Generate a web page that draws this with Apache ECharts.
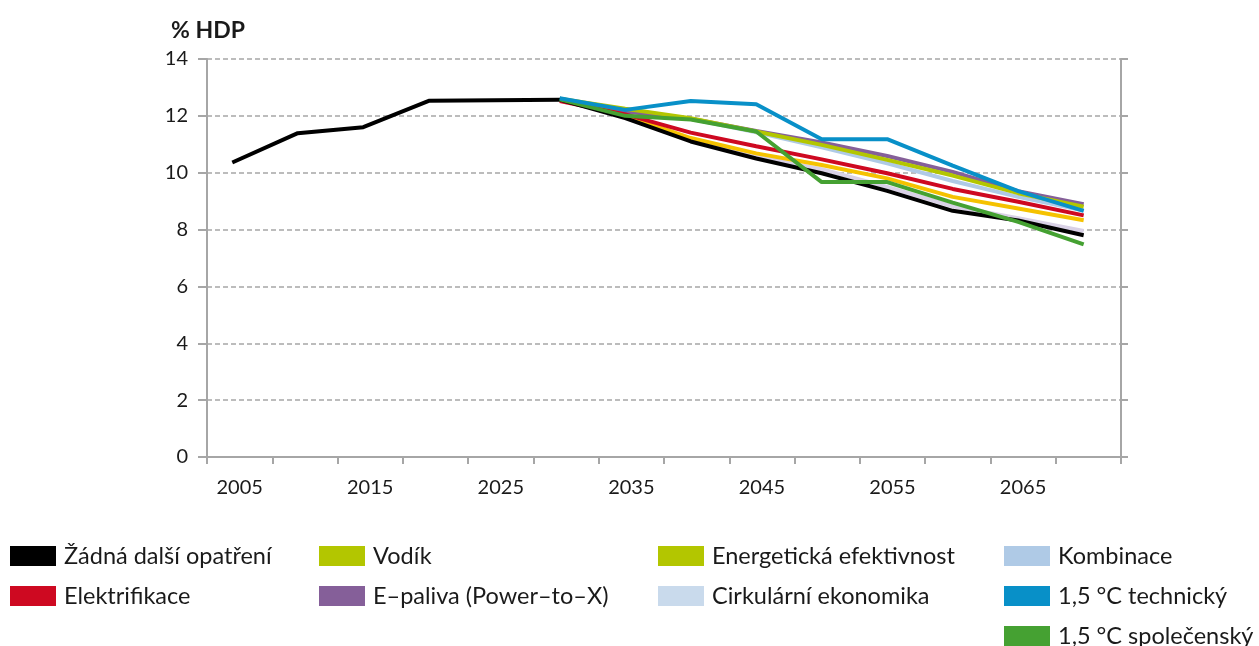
<!DOCTYPE html>
<html>
<head>
<meta charset="utf-8">
<script src="https://cdn.jsdelivr.net/npm/echarts@6/dist/echarts.min.js"></script>
<style>
  html, body { margin: 0; padding: 0; background: #fff; }
  #chart { width: 1259px; height: 646px; }
</style>
</head>
<body>
<div id="chart"></div>
<script>
// roky na ose x
var years = ['2005', '2010', '2015', '2020', '2025', '2030', '2035', '2040', '2045', '2050', '2055', '2060', '2065', '2070'];

// scénáře, % HDP
var zadna = [10.36, 11.39, 11.6, 12.53, 12.55, 12.57, 11.92, 11.1, 10.5, 9.98, 9.36, 8.66, 8.32, 7.8];
var elektrifikace = [null, null, null, null, null, 12.52, 12.05, 11.41, 10.93, 10.47, 9.98, 9.43, 8.98, 8.5];
var vodik = [null, null, null, null, null, 12.6, 12.25, 11.92, 11.45, 10.98, 10.45, 9.9, 9.28, 8.8];
var epaliva = [null, null, null, null, null, 12.6, 12.15, 11.9, 11.47, 11.06, 10.59, 10.03, 9.35, 8.89];
var efektivnost = [null, null, null, null, null, 12.58, 12.02, 11.22, 10.68, 10.27, 9.8, 9.15, 8.74, 8.33];
var cirkularni = [null, null, null, null, null, 12.57, 11.96, 11.15, 10.56, 10.12, 9.5, 8.82, 8.4, 7.95];
var kombinace = [null, null, null, null, null, 12.6, 12.15, 11.9, 11.42, 10.89, 10.33, 9.71, 9.15, 8.67];
var technicky = [null, null, null, null, null, 12.62, 12.21, 12.52, 12.41, 11.18, 11.18, 10.25, 9.35, 8.66];
var spolecensky = [null, null, null, null, null, 12.58, 12.0, 11.87, 11.45, 9.67, 9.67, 8.95, 8.27, 7.48];

var font = 'Lato';
var chart = echarts.init(document.getElementById('chart'));

// body leží na skryté číselné ose (let), popisky dělá kategoriová osa
function line(name, data, color) {
  return {
    name: name,
    type: 'line',
    xAxisIndex: 1,
    data: data.map(function (v, i) { return [Number(years[i]), v]; }),
    symbol: 'none',
    connectNulls: false,
    lineStyle: { width: 4, color: color },
    itemStyle: { color: color }
  };
}

// jedna legenda = jeden sloupec
function legendCol(left, items) {
  return {
    left: left,
    top: 544,
    height: 140,
    orient: 'vertical',
    padding: 0,
    itemWidth: 46,
    itemHeight: 20,
    itemGap: 16,
    icon: 'rect',
    selectedMode: false,
    textStyle: { fontFamily: font, fontSize: 23.5, color: '#1a1a1a', lineHeight: 20, padding: [0, 0, 0, 3] },
    data: items
  };
}

var option = {
  animation: false,
  title: {
    text: '% HDP',
    left: 166,
    top: 14,
    textStyle: { fontFamily: font, fontSize: 23, fontWeight: 'bold', color: '#1a1a1a' }
  },
  grid: { left: 207, right: 138, top: 59, bottom: 189, containLabel: false },
  legend: [
    legendCol(10, [
      { name: 'Žádná další opatření', itemStyle: { color: '#000000' } },
      { name: 'Elektrifikace', itemStyle: { color: '#CE0921' } }
    ]),
    legendCol(319, [
      { name: 'Vodík', itemStyle: { color: '#B3C600' } },
      { name: 'E–paliva (Power–to–X)', itemStyle: { color: '#855F99' } }
    ]),
    legendCol(658, [
      { name: 'Energetická efektivnost', itemStyle: { color: '#B3C600' } },
      { name: 'Cirkulární ekonomika', itemStyle: { color: '#C9DAEC' } }
    ]),
    legendCol(1004, [
      { name: 'Kombinace', itemStyle: { color: '#AFCAE6' } },
      { name: '1,5 °C technický', itemStyle: { color: '#0890C8' } },
      { name: '1,5 °C společenský', itemStyle: { color: '#45A132' } }
    ])
  ],
  xAxis: [{
    type: 'category',
    data: years,
    boundaryGap: true,
    axisLine: { lineStyle: { color: '#A6A6A6', width: 2 } },
    axisTick: { show: true, interval: 0, length: 7, lineStyle: { color: '#A6A6A6', width: 2 } },
    axisLabel: { interval: 1, margin: 21, fontFamily: font, fontSize: 20, color: '#1a1a1a' },
    splitLine: { show: false }
  }, {
    type: 'value',
    min: 2003.07,
    max: 2072.85,
    show: false,
    splitLine: { show: false }
  }],
  yAxis: [{
    type: 'value',
    min: 0,
    max: 14,
    interval: 2,
    axisLine: { show: true, lineStyle: { color: '#A6A6A6', width: 2 } },
    axisTick: { show: true, length: 9, lineStyle: { color: '#A6A6A6', width: 2 } },
    axisLabel: { margin: 19, fontFamily: font, fontSize: 20, color: '#1a1a1a' },
    splitLine: { show: true, lineStyle: { color: '#A6A6A6', type: [5, 3], width: 1.5 } }
  }, {
    type: 'value',
    position: 'right',
    min: 0,
    max: 14,
    interval: 2,
    axisLine: { show: true, lineStyle: { color: '#A6A6A6', width: 2 } },
    axisTick: { show: true, length: 7, lineStyle: { color: '#A6A6A6', width: 2 } },
    axisLabel: { show: false },
    splitLine: { show: false }
  }],
  series: [
    line('Cirkulární ekonomika', cirkularni, '#D9D1E6'),
    line('Kombinace', kombinace, '#AFCAE6'),
    line('E–paliva (Power–to–X)', epaliva, '#855F99'),
    line('Vodík', vodik, '#B3C600'),
    line('Energetická efektivnost', efektivnost, '#F5C200'),
    line('Elektrifikace', elektrifikace, '#CE0921'),
    line('Žádná další opatření', zadna, '#000000'),
    line('1,5 °C společenský', spolecensky, '#45A132'),
    line('1,5 °C technický', technicky, '#0890C8')
  ]
};

chart.setOption(option);
</script>
</body>
</html>
